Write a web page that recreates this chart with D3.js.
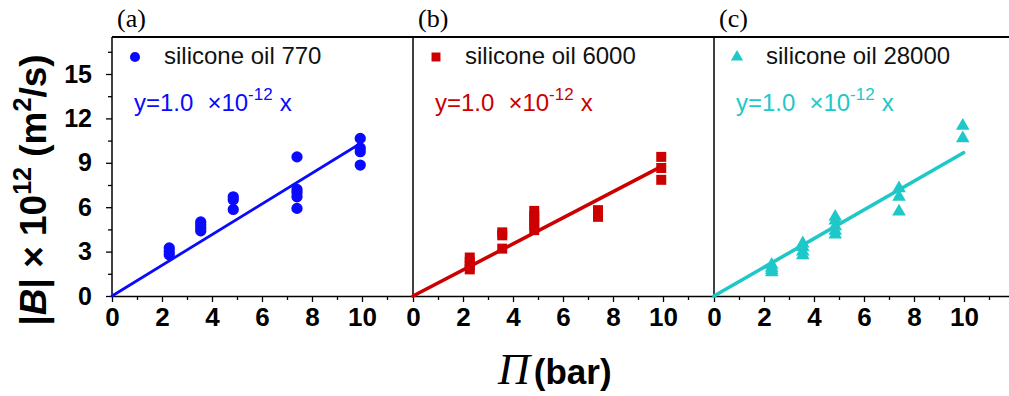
<!DOCTYPE html>
<html>
<head>
<meta charset="utf-8">
<script src="https://cdn.jsdelivr.net/npm/d3@7"></script>
<style>
  body { margin: 0; background: #fff; }
</style>
</head>
<body>
<div id="chart"></div>
<script>
// panel labels, legends and colours
var panels = ["(a)", "(b)", "(c)"];
var oils = ["silicone oil 770", "silicone oil 6000", "silicone oil 28000"];
var colors = ["#0a0aff", "#cc0000", "#1fc8c8"];
var slopes = [1.037, 0.88, 0.97];   // drawn fit lines
var fitEnd = [9.95, 9.85, 9.98];

// measured |B| x 1e12 against Pi (bar)
var data770 = [
  [2.29, 3.25], [2.29, 3.0], [2.29, 2.78],
  [3.55, 5.0], [3.55, 4.8], [3.55, 4.6], [3.55, 4.4],
  [4.85, 6.7], [4.85, 6.5], [4.85, 5.85],
  [7.4, 9.4], [7.4, 7.2], [7.4, 7.0], [7.4, 6.7], [7.4, 5.92],
  [9.93, 10.65], [9.93, 10.0], [9.93, 9.75], [9.93, 8.85]
];
var data6000 = [
  [2.27, 2.6], [2.27, 2.3], [2.27, 2.0], [2.27, 1.8],
  [3.57, 4.3], [3.57, 4.1], [3.57, 3.2],
  [4.85, 5.75], [4.85, 5.4], [4.85, 5.1], [4.85, 4.8], [4.85, 4.45],
  [7.4, 5.8], [7.4, 5.35],
  [9.93, 9.4], [9.93, 8.65], [9.93, 7.85]
];
var data28000 = [
  [2.31, 2.1], [2.31, 1.9], [2.31, 1.75], [2.31, 1.6],
  [3.55, 3.55], [3.55, 3.3], [3.55, 3.0], [3.55, 2.75],
  [4.85, 5.35], [4.85, 5.1], [4.85, 4.7], [4.85, 4.4], [4.85, 4.15],
  [7.4, 7.28], [7.4, 6.7], [7.4, 5.7],
  [9.95, 11.5], [9.95, 10.65]
];
var allData = [data770, data6000, data28000];
var symbols = [d3.symbolCircle, d3.symbolSquare, d3.symbolTriangle];
var symSize = [100, 100, 80];

var xTicks = [0, 2, 4, 6, 8, 10];
var yTicks = [0, 3, 6, 9, 12, 15];

var width = 1009, height = 396;
var left0 = 112, panelW = 301, plotTop = 37, plotBottom = 296;
var sans = "Liberation Sans, Arial, sans-serif",
    serif = "Liberation Serif, Times New Roman, serif";

var svg = d3.select("#chart").append("svg")
    .attr("width", width)
    .attr("height", height)
    .attr("font-family", sans);

var y = d3.scaleLinear().domain([0, 17.5]).range([plotBottom, plotTop]);

panels.forEach(function(label, i) {
  var x0 = left0 + i * panelW;
  var x = d3.scaleLinear().domain([0, 12]).range([x0, x0 + 300]);
  var g = svg.append("g");

  // bottom axis with minor ticks
  var minor = d3.axisBottom(x).tickValues(d3.range(1, 13, 2)).tickSize(4).tickFormat("");
  g.append("g").attr("transform", "translate(0," + plotBottom + ")").call(minor)
    .call(function(s) { s.select(".domain").remove(); })
    .selectAll("line").attr("stroke-width", 1.3);
  var xa = g.append("g").attr("transform", "translate(0," + plotBottom + ")")
    .call(d3.axisBottom(x).tickValues(xTicks).tickSize(6).tickSizeOuter(0).tickPadding(6));
  xa.select(".domain").attr("stroke-width", 1.6);
  xa.selectAll("line").attr("stroke-width", 1.3);
  xa.selectAll("text").attr("font-size", 26).attr("font-weight", "bold")
    .attr("font-family", sans).attr("fill", "#000");

  // frame: left and top
  g.append("line").attr("x1", x0).attr("x2", x0).attr("y1", plotTop).attr("y2", plotBottom)
    .attr("stroke", "#000").attr("stroke-width", 1.5);
  g.append("line").attr("x1", x0).attr("x2", Math.min(x0 + 301, width)).attr("y1", plotTop).attr("y2", plotTop)
    .attr("stroke", "#000").attr("stroke-width", 2);

  if (i === 0) {
    var ym = d3.axisLeft(y).tickValues(d3.range(1.5, 17.5, 3)).tickSize(4).tickFormat("");
    g.append("g").attr("transform", "translate(" + x0 + ",0)").call(ym)
      .call(function(s) { s.select(".domain").remove(); })
      .selectAll("line").attr("stroke-width", 1.3);
    var ya = g.append("g").attr("transform", "translate(" + x0 + ",0)")
      .call(d3.axisLeft(y).tickValues(yTicks).tickSize(6).tickSizeOuter(0).tickPadding(14));
    ya.select(".domain").remove();
    ya.selectAll("line").attr("stroke-width", 1.3);
    ya.selectAll("text").attr("font-size", 25).attr("font-weight", "bold")
      .attr("font-family", sans).attr("fill", "#000");
  }

  // fit line
  g.append("line")
    .attr("x1", x(0)).attr("y1", y(0))
    .attr("x2", x(fitEnd[i])).attr("y2", y(slopes[i] * fitEnd[i]))
    .attr("stroke", colors[i]).attr("stroke-width", i === 0 ? 2.8 : 3.6)
    .attr("stroke-linecap", "round");

  // points
  g.selectAll(".pt").data(allData[i]).enter().append("path")
    .attr("d", d3.symbol().type(symbols[i]).size(symSize[i]))
    .attr("transform", function(d) { return "translate(" + x(d[0]) + "," + y(d[1]) + ")"; })
    .attr("fill", colors[i]);

  // legend
  g.append("path")
    .attr("d", d3.symbol().type(symbols[i]).size(i === 2 ? 65 : 80))
    .attr("transform", "translate(" + (x0 + 23) + ",57)")
    .attr("fill", colors[i]);
  g.append("text").attr("x", x0 + 52).attr("y", 64)
    .attr("font-size", 24).attr("fill", "#111").text(oils[i]);

  var eq = g.append("text").attr("x", x0 + 22).attr("y", 111)
    .attr("font-size", 24).attr("fill", colors[i]);
  eq.append("tspan").text("y=1.0");
  eq.append("tspan").attr("dx", 14).text("\u00d710");
  eq.append("tspan").attr("font-size", 17).attr("dy", -11).text("-12");
  eq.append("tspan").attr("dy", 11).attr("dx", 7).text("x");

  // panel label
  g.append("text").attr("x", x0 + 5).attr("y", 27)
    .attr("font-family", serif)
    .attr("font-size", 26).attr("fill", "#000").text(label);
});

// y label
var yl = svg.append("text")
  .attr("transform", "translate(46,190) rotate(-90)")
  .attr("text-anchor", "middle").attr("font-weight", "bold").attr("font-size", 37);
yl.append("tspan").text("|");
yl.append("tspan").attr("font-style", "italic").text("B");
yl.append("tspan").text("| \u00d7 10");
yl.append("tspan").attr("font-size", 25).attr("dy", -15).text("12");
yl.append("tspan").attr("dy", 15).text(" (m");
yl.append("tspan").attr("font-size", 25).attr("dy", -15).text("2");
yl.append("tspan").attr("dy", 15).text("/s)");

// x label
var xl = svg.append("text").attr("x", 498).attr("y", 384);
xl.append("tspan").attr("font-family", serif)
  .attr("font-style", "italic").attr("font-size", 44).text("\u03a0");
xl.append("tspan").attr("dx", 4).attr("font-weight", "bold").attr("font-size", 35).text("(bar)");
</script>
</body>
</html>
